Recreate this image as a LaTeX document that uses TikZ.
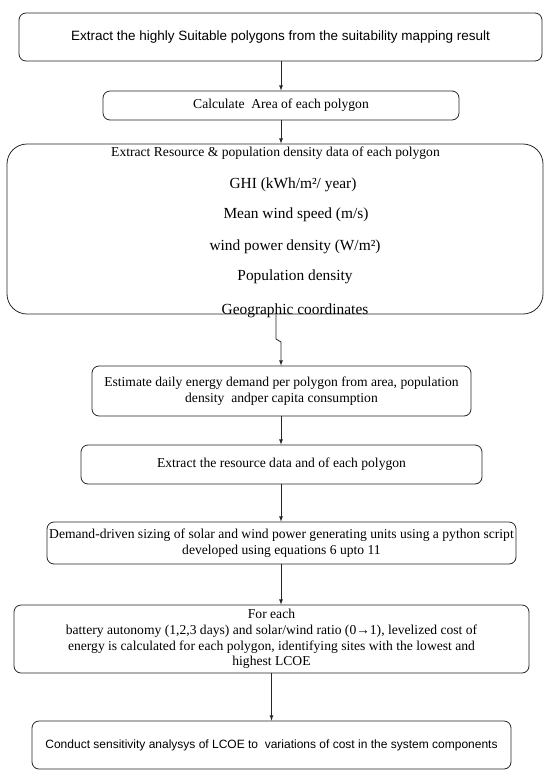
\documentclass[tikz,border=0pt]{standalone}
\usepackage{fontspec}
\setmainfont{Liberation Serif}
\setsansfont{Liberation Sans}
\usetikzlibrary{arrows}

\tikzset{
    stepbox/.style={draw=black!85, line width=0.8pt, rounded corners=7pt,
        align=center, inner sep=0pt},
    serifsize/.style={font=\fontsize{13.6}{15.8}\selectfont},
    sanssize/.style={font=\sffamily\fontsize{13.5}{15}\selectfont},
    smallsans/.style={font=\sffamily\fontsize{12}{14}\selectfont},
    itemsize/.style={font=\fontsize{15.4}{18}\selectfont},
    flow/.style={-latex, line width=0.8pt, black!85}
}

\begin{document}
\begin{tikzpicture}[x=1pt,y=-1pt]
        \useasboundingbox (0,0) rectangle (550,777);

        % Boxes
        \node [stepbox, sanssize, minimum width=523, minimum height=48]
            (extract) at (280.5,37)
            {Extract the highly Suitable polygons from the suitability mapping result};
        \node [stepbox, serifsize, minimum width=356, minimum height=29]
            (area) at (281,105.5) {Calculate\ \ Area of each polygon};
        \node [stepbox, rounded corners=20pt, minimum width=536, minimum height=170]
            (resource) at (275,229) {};
        \node [stepbox, serifsize, minimum width=379, minimum height=50]
            (demand) at (281.5,391)
            {Estimate daily energy demand per polygon from area, population\\
             density\ \ andper capita consumption};
        \node [stepbox, serifsize, minimum width=401, minimum height=39]
            (resdata) at (281.5,464.5) {Extract the resource data and of each polygon};
        \node [stepbox, serifsize, minimum width=469, minimum height=42]
            (sizing) at (281.5,543)
            {Demand-driven sizing of solar and wind power generating units using a python script\\
             developed using equations 6 upto 11};
        \node [stepbox, serifsize, minimum width=515, minimum height=68]
            (lcoe) at (271.5,639)
            {For each\\
             battery autonomy (1,2,3 days) and solar/wind ratio (0→1), levelized cost of\\
             energy is calculated for each polygon, identifying sites with the lowest and\\
             highest LCOE};
        \node [stepbox, smallsans, minimum width=479, minimum height=48]
            (sensitivity) at (271.5,745)
            {Conduct sensitivity analysys of LCOE to\ \ variations of cost in the system components};

        % Resource box lines
        \node [serifsize] (restitle) at (275.5,153)
            {Extract Resource \& population density data of each polygon};
        \node [itemsize] (ghi) at (293,185) {GHI (kWh/m²/ year)};
        \node [itemsize] (wind) at (296,215) {Mean wind speed (m/s)};
        \node [itemsize] (wpd) at (295,247) {wind power density (W/m²)};
        \node [itemsize] (pop) at (295,277) {Population density};
        \node [itemsize] (geo) at (295,310.5) {Geographic coordinates};

        % Connectors
        \coordinate (jogtop) at (276,339);
        \coordinate (jogbot) at (281,342);
        \draw [flow] (extract.south -| area.north) -- (area.north);
        \draw [flow] (area.south) -- (area.south |- resource.north);
        \draw [flow] (resource.south -| jogtop) -- (jogtop) -- (jogbot)
            -- (jogbot |- demand.north);
        \draw [flow] (demand.south -| jogbot) -- (jogbot |- resdata.north);
        \draw [flow] (resdata.south -| jogbot) -- (jogbot |- sizing.north);
        \draw [flow] (sizing.south -| jogbot) -- (jogbot |- lcoe.north);
        \draw [flow] (lcoe.south) -- (sensitivity.north);

    \end{tikzpicture}
\end{document}
